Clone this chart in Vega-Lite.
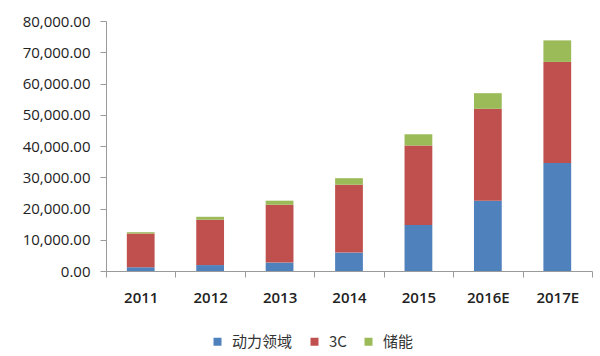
{
  "$schema": "https://vega.github.io/schema/vega-lite/v6.json",
  "width": 486,
  "height": 250,
  "autosize": "none",
  "padding": {"left": 106, "top": 21, "right": 8, "bottom": 85},
  "background": "white",
  "config": {"view": {"stroke": null}, "font": "Open Sans"},
  "data": {
    "values": [
      {"year": "2011", "type": "动力领域", "value": 1200},
      {"year": "2011", "type": "3C", "value": 10800},
      {"year": "2011", "type": "储能", "value": 420},
      {"year": "2012", "type": "动力领域", "value": 1900},
      {"year": "2012", "type": "3C", "value": 14500},
      {"year": "2012", "type": "储能", "value": 950},
      {"year": "2013", "type": "动力领域", "value": 2700},
      {"year": "2013", "type": "3C", "value": 18500},
      {"year": "2013", "type": "储能", "value": 1300},
      {"year": "2014", "type": "动力领域", "value": 5900},
      {"year": "2014", "type": "3C", "value": 21700},
      {"year": "2014", "type": "储能", "value": 2100},
      {"year": "2015", "type": "动力领域", "value": 14700},
      {"year": "2015", "type": "3C", "value": 25450},
      {"year": "2015", "type": "储能", "value": 3600},
      {"year": "2016E", "type": "动力领域", "value": 22500},
      {"year": "2016E", "type": "3C", "value": 29400},
      {"year": "2016E", "type": "储能", "value": 5000},
      {"year": "2017E", "type": "动力领域", "value": 34600},
      {"year": "2017E", "type": "3C", "value": 32300},
      {"year": "2017E", "type": "储能", "value": 6900}
    ]
  },
  "transform": [
    {"calculate": "indexof(['动力领域','3C','储能'], datum.type)", "as": "ord"}
  ],
  "mark": {"type": "bar", "width": {"band": 0.4}},
  "encoding": {
    "x": {
      "field": "year", "type": "nominal", "sort": null,
      "scale": {"paddingInner": 0, "paddingOuter": 0},
      "axis": {
        "title": null, "labelAngle": 0, "tickBand": "extent",
        "domainColor": "#9a9a9a", "tickColor": "#9a9a9a", "tickSize": 6,
        "labelFont": "Open Sans", "labelFontSize": 15, "labelFontWeight": 600,
        "labelColor": "#222", "labelPadding": 13, "labelOverlap": false
      }
    },
    "y": {
      "field": "value", "type": "quantitative", "stack": "zero",
      "scale": {"domain": [0, 80000], "nice": false},
      "axis": {
        "title": null, "format": ",.2f", "values": [0,10000,20000,30000,40000,50000,60000,70000,80000],
        "grid": false, "domainColor": "#9a9a9a", "tickColor": "#9a9a9a", "tickSize": 6,
        "labelFont": "Open Sans", "labelFontSize": 15, "labelFontWeight": 500,
        "labelColor": "#222", "labelPadding": 10, "labelOverlap": false
      }
    },
    "color": {
      "field": "type", "type": "nominal",
      "scale": {"domain": ["动力领域", "3C", "储能"], "range": ["#4F81BD", "#C0504D", "#9BBB59"]},
      "legend": {
        "title": null, "orient": "none", "direction": "horizontal",
        "legendX": 104, "legendY": 313,
        "symbolType": "square", "symbolSize": 64, "symbolStrokeWidth": 0,
        "labelFont": "Noto Sans CJK SC", "labelFontSize": 15, "labelColor": "#333",
        "columnPadding": 14, "labelOffset": 7
      }
    },
    "order": {"field": "ord", "type": "quantitative"}
  }
}
